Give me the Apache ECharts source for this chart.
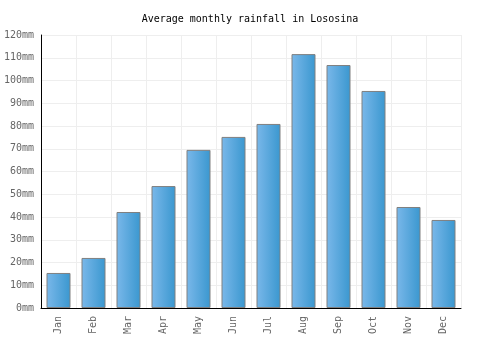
<!DOCTYPE html>
<html>
<head>
<meta charset="utf-8">
<script src="https://cdn.jsdelivr.net/npm/echarts@6/dist/echarts.min.js"></script>
<style>
  html, body { margin: 0; padding: 0; background: #fff; }
  #chart { width: 500px; height: 350px; }
</style>
</head>
<body>
<div id="chart"></div>
<script>
const months = ['Jan', 'Feb', 'Mar', 'Apr', 'May', 'Jun', 'Jul', 'Aug', 'Sep', 'Oct', 'Nov', 'Dec'];
const rainfall = [15.4, 22, 42.2, 53.6, 69.5, 75.2, 80.9, 111.6, 106.8, 95.4, 44.4, 38.7];

const chart = echarts.init(document.getElementById('chart'));
const font = 'DejaVu Sans Mono';

chart.setOption({
  animation: false,
  title: {
    text: 'Average monthly rainfall in Lososina',
    left: 'center',
    top: 9,
    textStyle: { fontFamily: font, fontSize: 10, fontWeight: 'normal', color: '#000' }
  },
  grid: { left: 41, right: 39, top: 35, bottom: 42 },
  xAxis: {
    type: 'category',
    data: months,
    axisLine: { lineStyle: { color: '#000', width: 1 } },
    axisTick: { show: false },
    splitLine: { show: true, lineStyle: { color: '#eeeeee' } },
    axisLabel: { rotate: 90, fontFamily: font, fontSize: 10, color: '#666', margin: 8 }
  },
  yAxis: {
    type: 'value',
    min: 0,
    max: 120,
    interval: 10,
    axisLine: { show: true, lineStyle: { color: '#000', width: 1 } },
    axisTick: { show: false },
    splitLine: { lineStyle: { color: '#eeeeee' } },
    axisLabel: { formatter: '{value}mm', fontFamily: font, fontSize: 10, color: '#666', margin: 7 }
  },
  series: [{
    type: 'bar',
    data: rainfall,
    barWidth: 24,
    itemStyle: {
      borderColor: '#808080',
      borderWidth: 1,
      color: new echarts.graphic.LinearGradient(0, 0, 1, 0, [
        { offset: 0, color: '#7ab8ea' },
        { offset: 1, color: '#3a97cf' }
      ])
    }
  }]
});
</script>
</body>
</html>
